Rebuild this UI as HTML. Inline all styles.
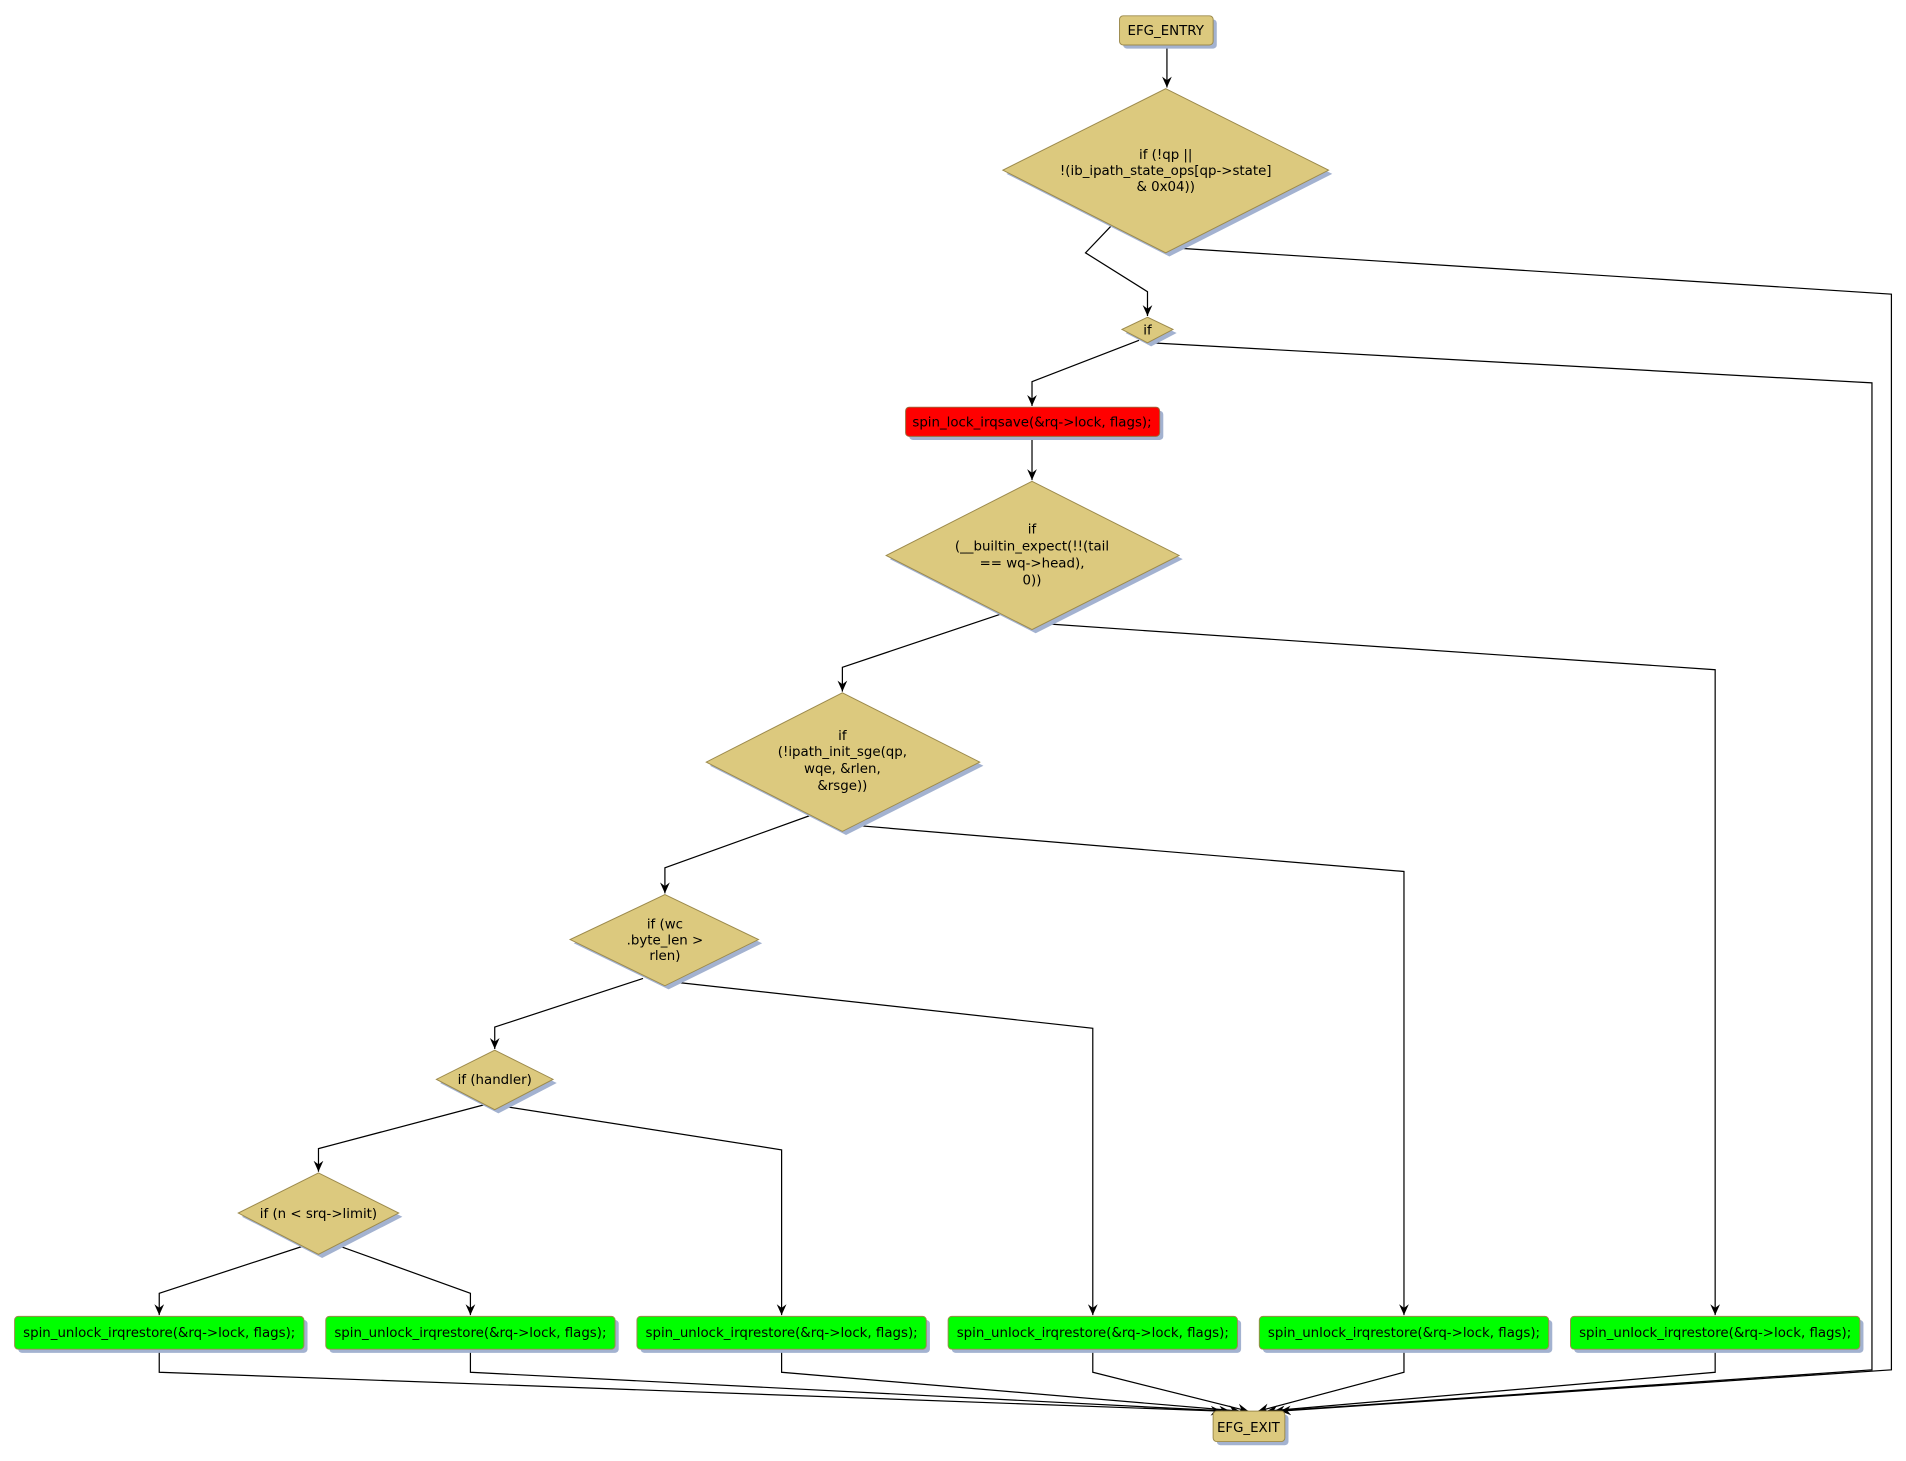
<!DOCTYPE html>
<html><head><meta charset="utf-8"><style>
html,body{margin:0;padding:0;background:#fff;}
svg{display:block;}
text{font-family:"DejaVu Sans","Liberation Sans",sans-serif;font-size:11px;fill:#000;text-anchor:middle;}
</style></head><body>
<svg width="1906" height="1461" viewBox="0 0 1568 1202" preserveAspectRatio="none" xmlns="http://www.w3.org/2000/svg">
<defs>
<marker id="a" markerWidth="10" markerHeight="10" refX="9" refY="5" orient="auto" markerUnits="userSpaceOnUse">
<path d="M0,1 L9,5 L0,9 L3,5 z" fill="#000"/>
</marker>
</defs>
<g fill="none" stroke="#000" stroke-width="1">
<path d="M960,37 L960,72" marker-end="url(#a)"/>
<path d="M914,186 L893,208 L944,240 L944,260" marker-end="url(#a)"/>
<path d="M967,204 L1556,242 L1556,1127 L1053,1161" marker-end="url(#a)"/>
<path d="M937,280 L849,314 L849,334" marker-end="url(#a)"/>
<path d="M946,282 L1540,315 L1540,1127 L1048,1161" marker-end="url(#a)"/>
<path d="M849,359 L849,395" marker-end="url(#a)"/>
<path d="M824,505 L693,549 L693,569" marker-end="url(#a)"/>
<path d="M857,513 L1411,551 L1411,1082" marker-end="url(#a)"/>
<path d="M669,670 L547,714 L547,735" marker-end="url(#a)"/>
<path d="M703,679 L1155,717 L1155,1082" marker-end="url(#a)"/>
<path d="M529,805 L407,845 L407,863" marker-end="url(#a)"/>
<path d="M555,808 L899,846 L899,1082" marker-end="url(#a)"/>
<path d="M398,909 L262,945 L262,964" marker-end="url(#a)"/>
<path d="M413,910 L643,946 L643,1082" marker-end="url(#a)"/>
<path d="M250,1025 L131,1064 L131,1082" marker-end="url(#a)"/>
<path d="M276,1024 L387,1064 L387,1082" marker-end="url(#a)"/>
<path d="M131,1110 L131,1129 L1005,1161" marker-end="url(#a)"/>
<path d="M387,1110 L387,1129 L1012,1161" marker-end="url(#a)"/>
<path d="M643,1110 L643,1129 L1020,1161" marker-end="url(#a)"/>
<path d="M899,1110 L899,1129 L1027,1161" marker-end="url(#a)"/>
<path d="M1155,1110 L1155,1129 L1035,1161" marker-end="url(#a)"/>
<path d="M1411,1110 L1411,1129 L1042,1161" marker-end="url(#a)"/>
</g>
<!-- shadows -->
<g fill="#a3b2d0">
<rect x="924" y="16" width="77" height="24" rx="3"/>
<polygon points="962,76 1096,143 962,211 828,143"/>
<polygon points="947,264 968,274 947,285 926,274"/>
<rect x="748" y="338" width="209" height="24" rx="3"/>
<polygon points="852,399 973,460 852,521 732,460"/>
<polygon points="696,573 809,630 696,687 584,630"/>
<polygon points="550,739 627,776 550,814 472,776"/>
<polygon points="410,867 458,891 410,916 362,891"/>
<polygon points="265,968 331,1001 265,1035 199,1001"/>
<rect x="15" y="1086" width="238" height="27" rx="3"/>
<rect x="271" y="1086" width="238" height="27" rx="3"/>
<rect x="527" y="1086" width="238" height="27" rx="3"/>
<rect x="783" y="1086" width="238" height="27" rx="3"/>
<rect x="1039" y="1086" width="238" height="27" rx="3"/>
<rect x="1295" y="1086" width="238" height="27" rx="3"/>
<rect x="1001" y="1164" width="59" height="25" rx="3"/>
</g>
<g fill="#dcc97e" stroke="#9c8a4c" stroke-width="0.8">
<rect x="921" y="13" width="77" height="24" rx="3"/>
<polygon points="959,73 1093,140 959,208 825,140"/>
<polygon points="944,261 965,271 944,282 923,271"/>
<polygon points="849,396 970,457 849,518 729,457"/>
<polygon points="693,570 806,627 693,684 581,627"/>
<polygon points="547,736 624,773 547,811 469,773"/>
<polygon points="407,864 455,888 407,913 359,888"/>
<polygon points="262,965 328,998 262,1032 196,998"/>
<rect x="998" y="1161" width="59" height="25" rx="3"/>
</g>
<rect x="745" y="335" width="209" height="24" rx="3" fill="#ff0000" stroke="#9c6a3c" stroke-width="0.8"/>
<g fill="#00ff00" stroke="#9c8a4c" stroke-width="0.8">
<rect x="12" y="1083" width="238" height="27" rx="3"/>
<rect x="268" y="1083" width="238" height="27" rx="3"/>
<rect x="524" y="1083" width="238" height="27" rx="3"/>
<rect x="780" y="1083" width="238" height="27" rx="3"/>
<rect x="1036" y="1083" width="238" height="27" rx="3"/>
<rect x="1292" y="1083" width="238" height="27" rx="3"/>
</g>
<text x="959" y="29">EFG_ENTRY</text>
<text x="959" y="131">if (!qp ||</text>
<text x="959" y="144">!(ib_ipath_state_ops[qp-&gt;state]</text>
<text x="959" y="157">&amp; 0x04))</text>
<text x="944" y="275">if</text>
<text x="849" y="351">spin_lock_irqsave(&amp;rq-&gt;lock, flags);</text>
<text x="849" y="439">if</text>
<text x="849" y="453">(__builtin_expect(!!(tail</text>
<text x="849" y="467">== wq-&gt;head),</text>
<text x="849" y="481">0))</text>
<text x="693" y="609">if</text>
<text x="693" y="622">(!ipath_init_sge(qp,</text>
<text x="693" y="636">wqe, &amp;rlen,</text>
<text x="693" y="650">&amp;rsge))</text>
<text x="547" y="764">if (wc</text>
<text x="547" y="777">.byte_len &gt;</text>
<text x="547" y="790">rlen)</text>
<text x="407" y="892">if (handler)</text>
<text x="262" y="1002">if (n &lt; srq-&gt;limit)</text>
<text x="131" y="1100">spin_unlock_irqrestore(&amp;rq-&gt;lock, flags);</text>
<text x="387" y="1100">spin_unlock_irqrestore(&amp;rq-&gt;lock, flags);</text>
<text x="643" y="1100">spin_unlock_irqrestore(&amp;rq-&gt;lock, flags);</text>
<text x="899" y="1100">spin_unlock_irqrestore(&amp;rq-&gt;lock, flags);</text>
<text x="1155" y="1100">spin_unlock_irqrestore(&amp;rq-&gt;lock, flags);</text>
<text x="1411" y="1100">spin_unlock_irqrestore(&amp;rq-&gt;lock, flags);</text>
<text x="1027" y="1178">EFG_EXIT</text>
</svg>
</body></html>
